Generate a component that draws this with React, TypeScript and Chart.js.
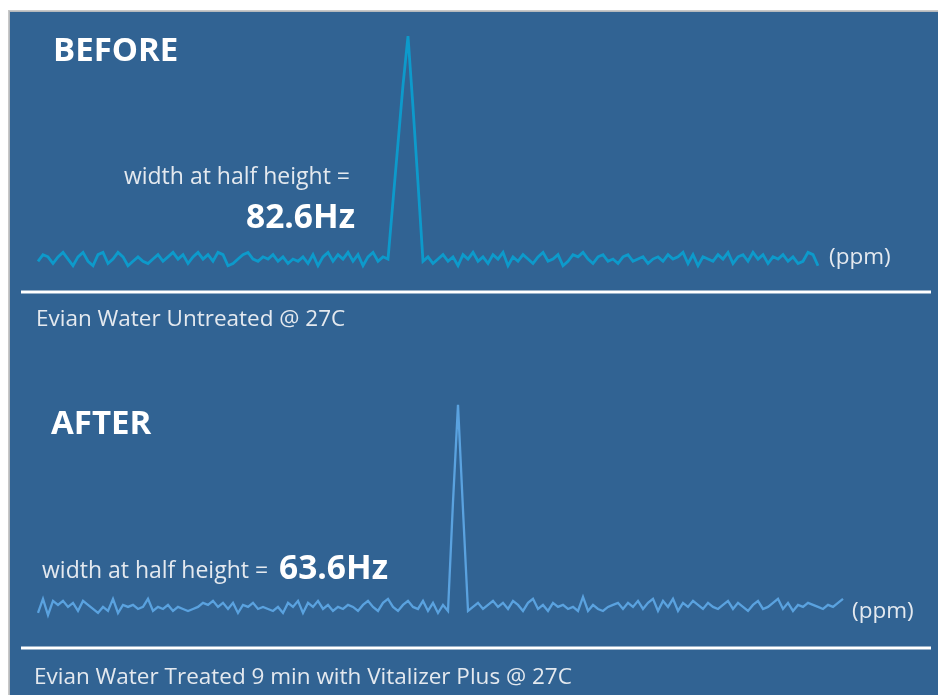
import React, { useEffect, useRef } from "react";
import { Chart, registerables } from "chart.js";

Chart.register(...registerables);

// Spectrum intensities (peak = 100), sampled at evenly spaced chemical-shift steps
const beforeValues = [
  -1, 2, 1, -2, 1, 3, 0, -3, 1, 3,
  -1, -3, 2, 3, -2, 0, 3, 1, -3, -1,
  1, -1, -2, 0, 2, -1, 1, 3, 0, 2,
  -2, 1, 3, 0, 2, -1, 3, 2, -3, -2,
  0, 2, 3, 0, -1, 1, 0, 2, -1, 1,
  -2, 0, -1, 1, -2, 2, -3, 1, 3, -1,
  2, 0, 3, -1, 2, -3, 1, 3, -1, 1,
  0, 26, 52, 78, 100, 68, 34, -1,
  1, -2, 0, 2, -1, 1, -3, 2, 0, 3,
  -1, 1, -2, 2, 0, 3, -3, 1, -1, 2,
  0, -2, 1, 3, -1, 0, 2, -3, -1, 2,
  1, 3, 0, -2, 1, 2, -1, 0, -2, 1,
  2, -1, 0, 1, -2, 0, 1, -1, 2, 0,
  1, 3, -2, 2, -3, 1, 0, -1, 2, 0,
  3, -2, 1, 2, -1, 3, 0, 2, -2, 1,
  0, 2, -1, 1, -2, -1, 3, 2, -3,
];

const afterValues = [
  -3, 4, -4, 3, 1, 3, 0, 2, -2, 3,
  1, -1, -3, 0, -2, 4, -3, 1, 0, 1,
  -1, 0, 4, -2, 0, -1, 1, -2, 0, -1,
  -2, -1, 0, 2, 1, 3, 0, 2, -1, 2,
  -3, 1, 0, 2, -1, 0, -1, -2, 0, -3,
  2, 0, 3, -3, 2, 0, 3, -1, 1, -2,
  0, -1, 1, 0, -2, 1, 3, 0, -2, 2,
  4, 0, -2, 1, 3, 0, -1, 3, -2, 2,
  -3, 1, -2, 52, 100, 48, -2,
  0, 2, -1, 1, 3, 0, 2, -1, 3, 1,
  -2, 2, 4, -1, 1, -2, 2, 0, 1, -1,
  0, -2, 5, -2, 1, -1, -2, 0, 1, 2,
  -1, 2, 0, 3, -1, 2, 4, -2, 3, 0,
  4, -2, 2, 0, 3, 1, -1, 2, 0, -1,
  1, 3, -1, 2, 0, -2, 1, 3, -1, 0,
  2, 4, -1, 2, -2, 1, 0, 2, 1, 0,
  -1, 1, 0, 2, 4,
];

const beforeTitle = "BEFORE";
const afterTitle = "AFTER";
const widthLabel = "width at half height =";
const beforeWidth = "82.6Hz";
const afterWidth = "63.6Hz";
const unitLabel = "(ppm)";
const beforeCaption = "Evian Water Untreated @ 27C";
const afterCaption = "Evian Water Treated 9 min with Vitalizer Plus @ 27C";

const FONT = '"Open Sans", "Noto Sans", sans-serif';

export default function App() {
  const canvasRef = useRef<HTMLCanvasElement | null>(null);

  useEffect(() => {
    const canvas = canvasRef.current;
    if (!canvas) return;

    const annotations = {
      id: "annotations",
      afterDatasetsDraw(chart: any) {
        const ctx = chart.ctx;
        ctx.save();
        ctx.textBaseline = "alphabetic";
        const text = (s: string, x: number, y: number, font: string, color: string, align: CanvasTextAlign = "left") => {
          ctx.font = font;
          ctx.fillStyle = color;
          ctx.textAlign = align;
          ctx.fillText(s, x, y);
        };
        const rule = (y: number) => {
          ctx.strokeStyle = "#ffffff";
          ctx.lineWidth = 3;
          ctx.beginPath();
          ctx.moveTo(13, y);
          ctx.lineTo(923, y);
          ctx.stroke();
        };
        // top panel
        text(beforeTitle, 45, 51, `bold 33px ${FONT}`, "#ffffff");
        text(widthLabel, 342, 174, `23px ${FONT}`, "#e4e9ef", "right");
        text(beforeWidth, 347, 218, `bold 33.5px ${FONT}`, "#ffffff", "right");
        text(unitLabel, 821, 254, `22.5px ${FONT}`, "#e4e9ef");
        rule(282);
        text(beforeCaption, 28, 316, `22.5px ${FONT}`, "#e4e9ef");
        // bottom panel
        text(afterTitle, 43, 424, `bold 33px ${FONT}`, "#ffffff");
        text(widthLabel, 34, 568, `23px ${FONT}`, "#e4e9ef");
        text(afterWidth, 271, 569, `bold 33.5px ${FONT}`, "#ffffff");
        text(unitLabel, 844, 608, `22.5px ${FONT}`, "#e4e9ef");
        rule(638);
        text(afterCaption, 26, 674, `22.5px ${FONT}`, "#e4e9ef");
        ctx.restore();
      },
    };

    const chart = new Chart(canvas, {
      type: "line",
      data: {
        datasets: [
          {
            data: beforeValues.map((y, i) => ({ x: i, y })),
            xAxisID: "x",
            yAxisID: "yTop",
            borderColor: "#0d9acb",
            borderWidth: 2.8,
            pointRadius: 0,
            tension: 0,
            fill: false,
          },
          {
            data: afterValues.map((y, i) => ({ x: i, y })),
            xAxisID: "x",
            yAxisID: "yBottom",
            borderColor: "#5aa2df",
            borderWidth: 2.3,
            pointRadius: 0,
            tension: 0,
            fill: false,
          },
        ],
      },
      options: {
        animation: false,
        responsive: false,
        devicePixelRatio: 1,
        layout: { padding: 0 },
        plugins: { legend: { display: false }, tooltip: { enabled: false } },
        events: [],
        scales: {
          x: { type: "linear", display: false, min: -6, max: 180 },
          yTop: { type: "linear", display: false, min: -195.5, max: 111.7 },
          yBottom: { type: "linear", display: false, min: -43.6, max: 295.5 },
        },
      },
      plugins: [annotations],
    });

    return () => chart.destroy();
  }, []);

  return (
    <div
      style={{
        position: "fixed",
        left: 8,
        top: 10,
        width: 930,
        height: 685,
        background: "#316393",
        boxShadow: "inset 1px 1px 0 #b5b9bd",
        borderLeft: "1px solid #c8c8c8",
        borderTop: "1px solid #c8c8c8",
        boxSizing: "border-box",
        overflow: "hidden",
      }}
    >
      <canvas ref={canvasRef} width={930} height={685} style={{ position: "absolute", left: -1, top: -1 }} />
    </div>
  );
}
